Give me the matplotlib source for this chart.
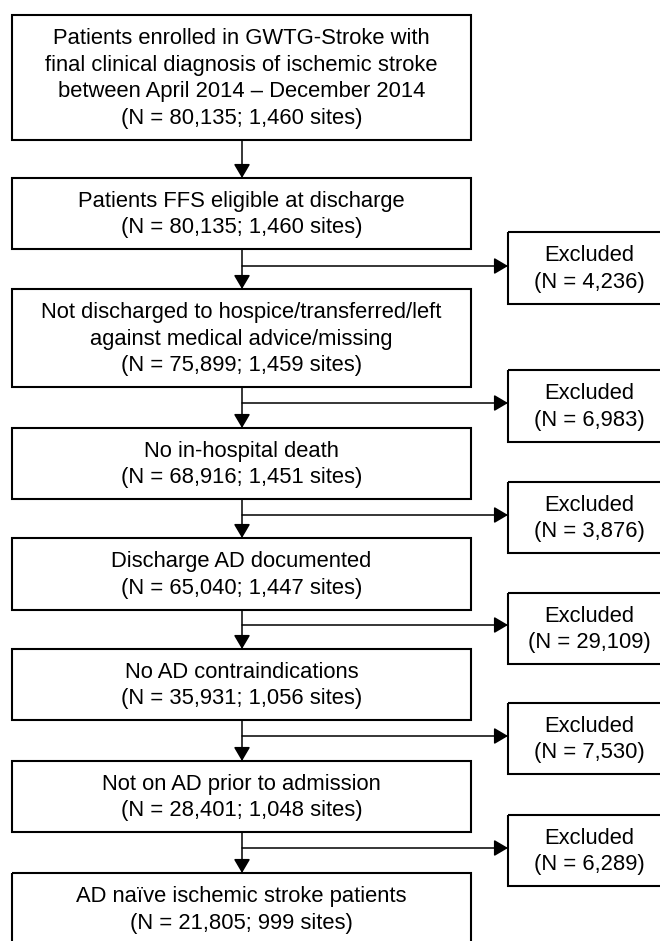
import matplotlib
matplotlib.use('Agg')
import matplotlib.pyplot as plt
from matplotlib.patches import Rectangle

plt.rcParams['font.family'] = ['Liberation Sans', 'DejaVu Sans']

# data
steps = ['Patients enrolled in GWTG-Stroke with\nfinal clinical diagnosis of ischemic stroke\nbetween April 2014 \u2013 December 2014',
         'Patients FFS eligible at discharge',
         'Not discharged to hospice/transferred/left\nagainst medical advice/missing',
         'No in-hospital death',
         'Discharge AD documented',
         'No AD contraindications',
         'Not on AD prior to admission',
         'AD na\u00efve ischemic stroke patients']
n_patients = [80135, 80135, 75899, 68916, 65040, 35931, 28401, 21805]
n_sites = [1460, 1460, 1459, 1451, 1447, 1056, 1048, 999]
excluded = [4236, 6983, 3876, 29109, 7530, 6289]

# layout (pixels)
box_top = [15, 178, 289, 428, 538, 649, 761, 873]
box_bot = [140, 249, 387, 499, 610, 720, 832, 945]
ex_top = [232, 370, 482, 593, 703, 815]
ex_bot = [304, 442, 553, 664, 774, 886]
ex_arrow = [266, 403, 515, 625, 736, 848]
bx0, bx1 = 12, 471
ex0, ex1 = 508, 672
stem = 242
pitch = 26.7
fs = 15.8

fig = plt.figure(figsize=(6.6, 9.41), dpi=100)
ax = fig.add_axes([0, 0, 1, 1])
ax.set_xlim(0, 660)
ax.set_ylim(941, 0)
ax.axis('off')


def textblock(lines, cx, cy):
    n = len(lines)
    for i, ln in enumerate(lines):
        y = cy + 1 + (i - (n - 1) / 2) * pitch
        ax.text(cx, y, ln, ha='center', va='center', fontsize=fs, color='black')


def arrow(x0, y0, x1, y1):
    ax.annotate('', xy=(x1, y1), xytext=(x0, y0),
                arrowprops=dict(arrowstyle='-|>,head_length=0.85,head_width=0.5',
                                lw=1.1, color='black', shrinkA=0, shrinkB=0,
                                mutation_scale=10))


for i in range(len(steps)):
    ax.add_patch(Rectangle((bx0, box_top[i]), bx1 - bx0, box_bot[i] - box_top[i],
                           fill=False, ec='black', lw=1.5, clip_on=True))
    lines = steps[i].split('\n') + [f'(N = {n_patients[i]:,}; {n_sites[i]:,} sites)']
    textblock(lines, (bx0 + bx1) / 2, (box_top[i] + box_bot[i]) / 2)
    if i + 1 < len(steps):
        arrow(stem, box_bot[i], stem, box_top[i + 1])

for j in range(len(excluded)):
    ax.add_patch(Rectangle((ex0, ex_top[j]), ex1 - ex0, ex_bot[j] - ex_top[j],
                           fill=False, ec='black', lw=1.5, clip_on=True))
    textblock(['Excluded', f'(N = {excluded[j]:,})'], (ex0 + ex1) / 2 - 1,
              (ex_top[j] + ex_bot[j]) / 2)
    arrow(stem, ex_arrow[j], ex0, ex_arrow[j])

fig.savefig('out.png', dpi=100, facecolor='white')
